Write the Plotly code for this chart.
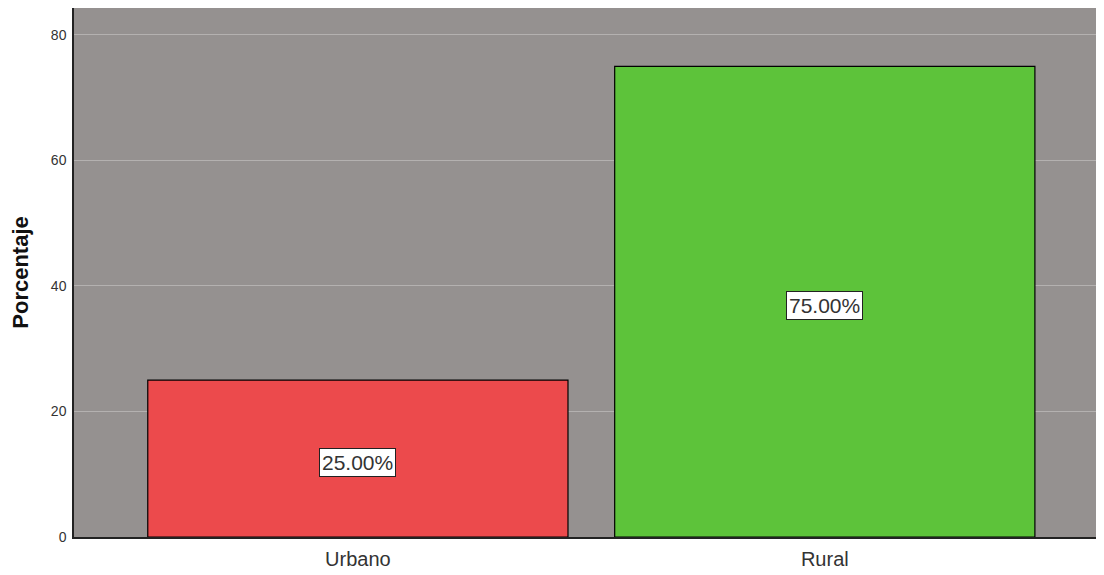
import plotly.graph_objects as go

categorias = ["Urbano", "Rural"]
porcentajes = [25.0, 75.0]
etiquetas = ["25.00%", "75.00%"]
colores = ["#EC4A4C", "#5DC33A"]

fig = go.Figure()
fig.add_trace(go.Bar(
    x=[0, 1],
    y=porcentajes,
    width=0.9,
    marker=dict(color=colores, line=dict(color="#000000", width=1.2)),
    hoverinfo="skip",
))

for i, (v, t) in enumerate(zip(porcentajes, etiquetas)):
    fig.add_annotation(
        x=i, y=v / 2 - 0.6, text=t, showarrow=False,
        font=dict(family="Liberation Sans, Arial", size=21, color="#333333"),
        bgcolor="#FFFFFF", bordercolor="#222222", borderwidth=1, borderpad=2,
    )

# the page body adds 8px of margin, so the figure is 8px smaller
fig.update_layout(
    width=1096, height=567,
    margin=dict(l=66, r=0, t=0, b=38),
    plot_bgcolor="#959190",
    paper_bgcolor="#FFFFFF",
    showlegend=False,
    font=dict(family="Liberation Sans, Arial", color="#333333"),
    xaxis=dict(
        range=[-0.608, 1.598],
        tickvals=[0, 1], ticktext=categorias,
        tickfont=dict(size=20),
        ticklabelstandoff=3,
        showgrid=False, zeroline=False,
        showline=True, linecolor="#222222", linewidth=1.5,
        ticks="", ticklen=0,
    ),
    yaxis=dict(
        range=[0, 84.3],
        tickvals=[0, 20, 40, 60, 80],
        tickfont=dict(size=14),
        ticklabelstandoff=3,
        showgrid=True, gridcolor="#B4B1B0", gridwidth=1,
        zeroline=False,
        showline=True, linecolor="#222222", linewidth=1.5,
        ticks="", ticklen=0,
        title=dict(text="<b>Porcentaje</b>", font=dict(size=22, color="#111111"), standoff=20),
    ),
)

fig.write_html("out.html")
